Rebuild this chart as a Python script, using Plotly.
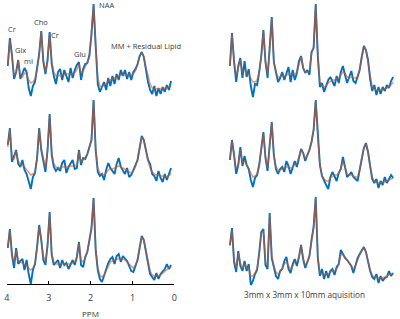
import numpy as np
import plotly.graph_objects as go

# chemical-shift grid (ppm), 3.98 -> 0.08
ppm = np.round(np.arange(3.98, 0.05, -0.05), 2)

# ---- left column (amplitudes, arbitrary units) ----
data_L1 = [34,62,45,21,28,40,21,26,32,28, 12,4,14,18,32,46,69,38,26,40,
           68,36,24,16,28,31,20,30,24,18, 32,22,30,35,38,20,31,36,37,45,
           66,96,54,16,8,14,18,10,22,14, 24,16,26,20,30,24,30,21,28,20,
           28,31,36,44,48,43,30,18,10,6, 14,4,12,6,13,8,15,10,19]
fit_L1 = [35,60,44,24,28,40,24,23,27,26,20,17,18,21,30,45,68,40,28,38,
          67,38,28,24,24,25,25,25,26,26,26,26,27,30,36,27,29,33,37,43,
          65,95,55,22,14,13,15,17,19,20,21,22,23,24,25,25,25,25,25,25,
          26,29,35,43,47,43,33,23,16,12,11,11,11,11,12,12,12,13,14]
data_L2 = [50,67,33,39,45,31,28,35,25,21, 13,6,18,22,37,67,45,33,23,45,
           81,40,28,24,27,24,32,35,22,28, 32,35,26,27,45,30,37,36,41,47,
           55,95,45,23,19,21,15,25,32,27, 24,21,31,37,28,24,21,27,18,20,
           25,29,35,47,59,55,45,35,31,21, 19,14,24,17,13,21,15,21,27]
fit_L2 = [48,66,38,36,44,34,31,30,28,25,22,20,21,23,36,66,46,35,27,44,
          80,42,31,28,27,27,28,28,28,28,29,29,29,30,44,33,35,37,40,47,
          56,94,46,27,22,20,20,22,25,26,26,27,28,29,28,27,26,25,23,22,
          24,28,36,47,58,55,44,34,27,23,21,20,20,19,19,18,18,19,22]
data_L3 = [42,61,35,22,42,26,29,31,20,30, 16,6,20,26,43,65,50,30,25,45,
           78,35,25,27,30,22,30,25,27,21, 26,30,25,33,48,25,23,33,38,50,
           62,92,40,20,11,8,15,20,27,31, 33,26,34,36,28,34,31,29,24,19,
           18,24,30,42,54,50,40,27,16,13, 10,17,11,16,19,21,26,21,25]
fit_L3 = [42,60,36,27,40,30,28,27,25,25,22,20,22,26,42,64,50,34,28,44,
          77,36,28,26,26,26,26,26,26,26,26,27,28,33,47,30,28,32,38,49,
          61,91,42,22,15,13,15,19,24,28,29,30,31,31,31,31,30,28,26,23,
          22,25,31,42,53,50,40,28,19,15,14,14,14,15,17,19,21,22,23]

# ---- right column ----
data_R1 = [34,67,38,18,34,42,22,39,23,31, 14,3,16,15,28,44,70,38,22,50,
           83,38,28,18,22,28,20,27,33,18, 30,20,27,39,44,32,27,30,25,48,
           52,96,44,13,17,8,15,20,23,18, 14,24,17,28,34,25,17,23,29,19,
           17,23,30,43,54,50,40,21,9,15, 5,13,6,13,9,15,12,19,23]
fit_R1 = [34,66,40,24,32,40,28,30,27,26,22,18,18,20,28,44,69,38,26,48,
          82,38,27,23,23,24,24,25,26,26,26,26,28,36,43,33,28,28,30,46,
          53,95,45,18,14,13,14,17,19,20,20,21,22,25,28,27,23,22,23,22,
          22,24,31,43,53,50,38,22,13,11,10,10,10,11,11,12,13,15,18]
data_R2 = [35,55,40,21,30,48,29,39,30,26, 15,8,17,20,30,47,63,37,24,50,
           73,40,26,21,26,28,23,34,29,21, 28,34,28,38,46,42,34,40,45,53,
           65,95,57,30,19,14,10,6,18,23, 18,14,22,26,38,26,18,20,23,18,
           16,14,25,37,47,52,43,29,16,12, 16,7,14,10,18,12,16,20,17]
fit_R2 = [36,54,40,26,30,45,32,34,30,27,22,18,19,21,30,46,62,38,27,48,
          72,40,28,25,25,26,27,28,28,27,28,30,32,38,45,42,37,39,45,53,
          65,94,56,30,20,16,14,14,17,19,20,20,22,26,34,28,21,20,20,19,
          18,18,25,37,47,51,43,29,18,14,13,12,12,12,13,14,15,16,17]
data_R3 = [45,62,28,18,39,24,19,29,19,26, 5,9,16,20,37,58,61,25,21,77,
           32,24,14,11,19,21,29,33,21,17, 26,31,24,33,45,31,22,28,34,50,
           63,93,32,14,21,11,19,12,19,21, 15,23,26,40,36,32,30,27,24,17,
           26,32,36,40,43,38,28,19,13,11, 16,7,14,9,12,13,19,14,17]
fit_R3 = [44,60,30,22,37,27,22,26,22,22,14,14,17,22,36,57,59,28,24,75,
          34,24,18,16,18,21,26,28,24,21,24,28,28,33,44,32,25,27,34,49,
          62,92,34,17,16,15,16,16,18,19,19,21,25,35,36,33,30,27,24,21,
          24,30,35,39,42,38,29,20,15,13,13,12,12,12,13,14,15,16,16]

tick_vals = [4, 3, 2, 1, 0]
tick_text = ["4", "3", "2", "1", "0"]

peak_labels = ["Cr", "Glx", "mI", "Cho", "Cr", "Glu", "NAA", "MM + Residual Lipid"]
peak_label_ppm = [3.87, 3.67, 3.48, 3.18, 2.85, 2.26, 1.62, 0.68]
peak_label_amp = [71.5, 50, 39, 78.5, 65, 46, 95.5, 54.5]

W, H = 400, 319
BLUE = "rgb(0,114,189)"
FIT = "rgba(217,83,25,0.6)"
TXT = "#3a3a3a"
FONT = "Open Sans"

def py(px):
    return 1 - px / H

col_dom = {0: [4 / W, 174 / W], 1: [229.5 / W, 399.5 / W]}
row_dom = {0: [py(100), py(0)], 1: [py(195), py(95)], 2: [py(290), py(190)]}

panels = [
    (0, 0, data_L1, fit_L1), (0, 1, data_L2, fit_L2), (0, 2, data_L3, fit_L3),
    (1, 0, data_R1, fit_R1), (1, 1, data_R2, fit_R2), (1, 2, data_R3, fit_R3),
]

fig = go.Figure()
layout = dict(
    width=W, height=H, margin=dict(l=0, r=0, t=0, b=0),
    paper_bgcolor="white", plot_bgcolor="rgba(0,0,0,0)",
    showlegend=False, font=dict(family=FONT, color=TXT, size=8),
)

for k, (c, r, d, f) in enumerate(panels):
    n = k + 1
    xs = "x" if n == 1 else f"x{n}"
    ys = "y" if n == 1 else f"y{n}"
    xk = "xaxis" if n == 1 else f"xaxis{n}"
    yk = "yaxis" if n == 1 else f"yaxis{n}"
    m = min(len(d), len(ppm))
    fig.add_trace(go.Scatter(x=ppm[:m], y=d[:m], mode="lines",
                             line=dict(color=BLUE, width=1.9),
                             xaxis=xs, yaxis=ys, hoverinfo="skip"))
    m2 = min(len(f), len(ppm))
    fig.add_trace(go.Scatter(x=ppm[:m2], y=f[:m2], mode="lines",
                             line=dict(color=FIT, width=1.5),
                             xaxis=xs, yaxis=ys, hoverinfo="skip"))
    xa = dict(domain=col_dom[c], range=[4, 0], showgrid=False, zeroline=False,
              anchor=ys, visible=False)
    if c == 0 and r == 2:
        xa.update(visible=True, anchor="free", position=py(284),
                  showline=True, linecolor="black", linewidth=1,
                  ticks="inside", ticklen=3, tickwidth=1, tickcolor="black",
                  tickvals=tick_vals, ticktext=tick_text,
                  tickfont=dict(family=FONT, size=9, color=TXT),
                  ticklabelstandoff=5)
    layout[xk] = xa
    layout[yk] = dict(domain=row_dom[r], range=[0, 100], visible=False,
                      showgrid=False, zeroline=False, anchor=xs)

annotations = []
for t, xp, ya in zip(peak_labels, peak_label_ppm, peak_label_amp):
    annotations.append(dict(text=t, x=xp, y=ya, xref="x", yref="y",
                            showarrow=False, xanchor="center", yanchor="middle",
                            font=dict(family=FONT, size=7.5, color=TXT)))
annotations.append(dict(text="PPM", x=89 / W, y=py(313), xref="paper", yref="paper",
                        xanchor="center", yanchor="middle",
                        showarrow=False, font=dict(family=FONT, size=8, color=TXT)))
annotations.append(dict(text="3mm x 3mm x 10mm aquisition", x=306 / W, y=py(294),
                        xref="paper", yref="paper", xanchor="center", yanchor="middle",
                        showarrow=False,
                        font=dict(family=FONT, size=8.2, color=TXT)))
layout["annotations"] = annotations

fig.update_layout(**layout)
fig.write_html("out.html", config={"displayModeBar": False},
               post_script="document.body.style.margin='0';document.body.style.padding='0';")
